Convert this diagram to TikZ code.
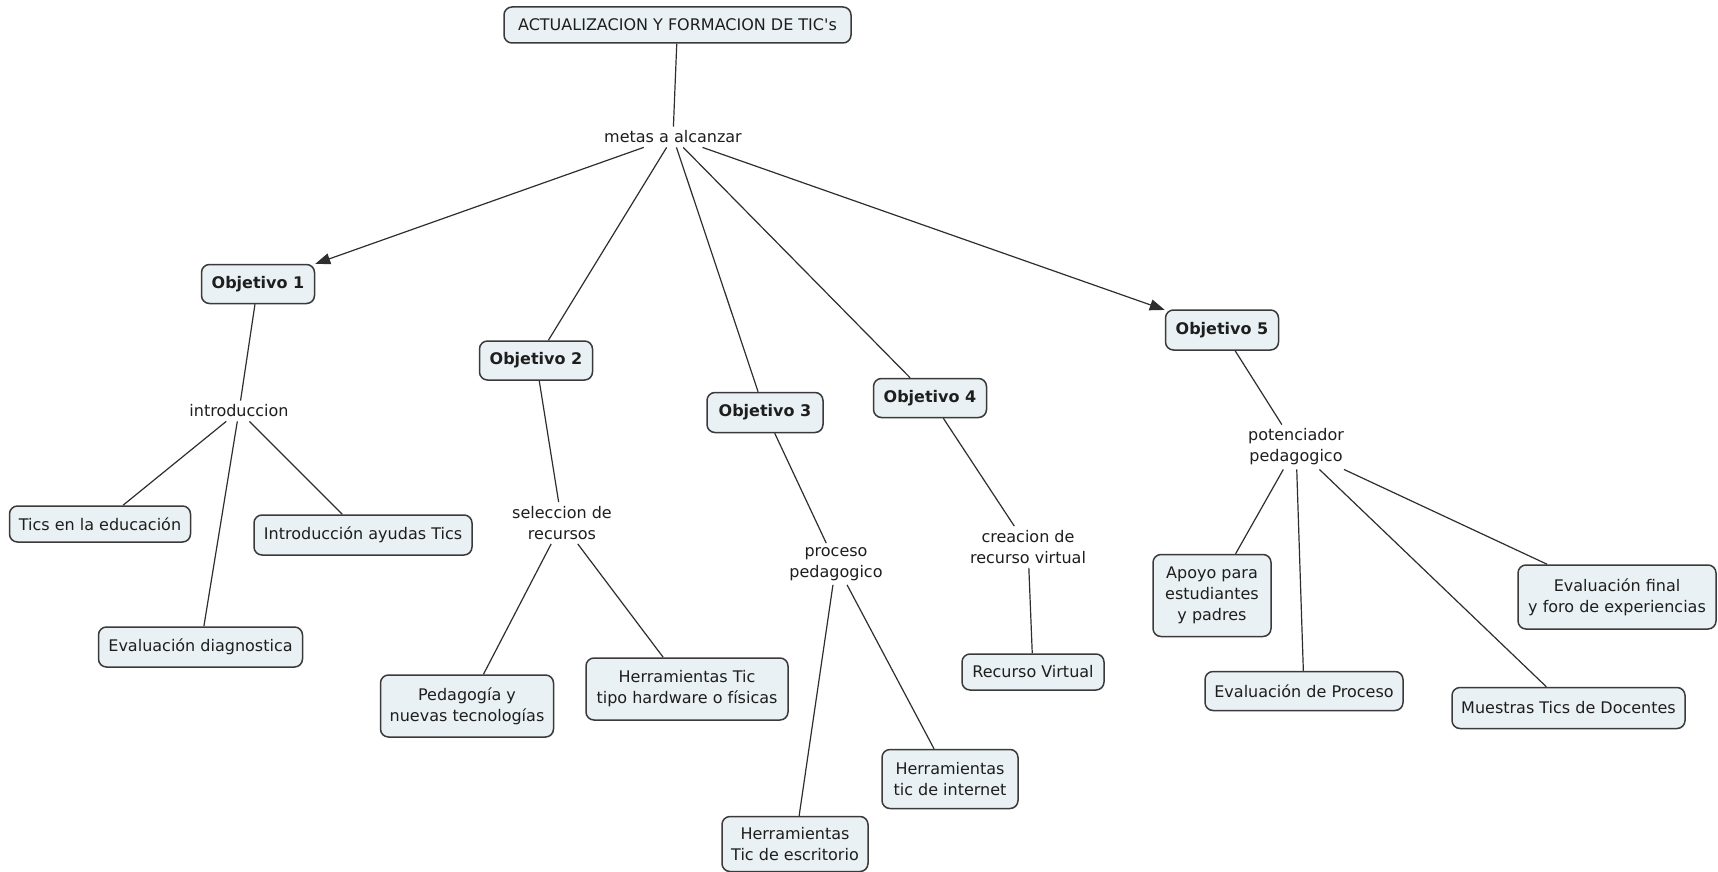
\documentclass[tikz,border=0pt]{standalone}
\usepackage{fontspec}
\setmainfont{DejaVu Sans}
\newfontfamily\dvs{DejaVu Sans}
\newfontfamily\dvsb{DejaVu Sans Bold}
\usetikzlibrary{arrows.meta}
\definecolor{boxfill}{HTML}{EAF1F4}
\definecolor{boxdraw}{HTML}{3A3A3A}
\definecolor{linec}{HTML}{2E2E2E}
\definecolor{txt}{HTML}{1E1E1E}
\begin{document}
\begin{tikzpicture}[x=1pt,y=-1pt,
  font=\dvs\fontsize{16}{21}\selectfont, text=txt,
  box/.style={draw=boxdraw, fill=boxfill, line width=1.5pt, rounded corners=8pt, align=center, inner sep=2pt},
  obj/.style={box, font=\dvs\bfseries\fontsize{16}{21}\selectfont},
  lbl/.style={align=center, inner sep=4pt},
  conn/.style={draw=linec, line width=1.2pt},
  arr/.style={conn, -{Triangle[length=15pt,width=11pt]}}]
\useasboundingbox (0,0) rectangle (1718,872);
\fill[white] (0,0) rectangle (1718,872);

% nodes
\node[box, minimum width=347pt, minimum height=36pt] (title) at (677.5,25) {ACTUALIZACION Y FORMACION DE TIC's};
\node[lbl] (metas) at (673,137) {metas a alcanzar};

\node[obj, minimum width=113pt, minimum height=39pt] (o1) at (258,284) {Objetivo 1};
\node[obj, minimum width=113pt, minimum height=39pt] (o2) at (536,360.5) {Objetivo 2};
\node[obj, minimum width=116pt, minimum height=40pt] (o3) at (765,412.5) {Objetivo 3};
\node[obj, minimum width=113pt, minimum height=39pt] (o4) at (930,398) {Objetivo 4};
\node[obj, minimum width=113pt, minimum height=40pt] (o5) at (1222,330) {Objetivo 5};

\node[lbl] (intro) at (239,411) {introduccion};
\node[box, minimum width=181pt, minimum height=36pt] (ticsedu) at (100,524) {Tics en la educación};
\node[box, minimum width=218pt, minimum height=40pt] (introay) at (363,535) {Introducción ayudas Tics};
\node[box, minimum width=204pt, minimum height=40pt] (evaldiag) at (200.5,647) {Evaluación diagnostica};

\node[lbl] (selec) at (562,523) {seleccion de\\recursos};
\node[box, minimum width=173pt, minimum height=62pt] (pedag) at (467,706) {Pedagogía y\\nuevas tecnologías};
\node[box, minimum width=202pt, minimum height=62pt] (herrhw) at (687,689) {Herramientas Tic\\tipo hardware o físicas};

\node[lbl] (proc) at (836,564) {proceso\\pedagogico};
\node[box, minimum width=136pt, minimum height=59pt] (herrint) at (950,779) {Herramientas\\tic de internet};
\node[box, minimum width=146pt, minimum height=55pt] (herresc) at (795,844) {Herramientas\\Tic de escritorio};

\node[lbl] (creac) at (1028,547) {creacion de\\recurso virtual};
\node[box, minimum width=142pt, minimum height=36pt] (recvirt) at (1033,672) {Recurso Virtual};

\node[lbl] (poten) at (1296,447) {potenciador\\pedagogico};
\node[box, minimum width=118pt, minimum height=82pt] (apoyo) at (1212,595.5) {Apoyo para\\estudiantes\\y padres};
\node[box, minimum width=198pt, minimum height=39pt] (evalproc) at (1304,691) {Evaluación de Proceso};
\node[box, minimum width=233pt, minimum height=41pt] (muestras) at (1568.5,708) {Muestras Tics de Docentes};
\node[box, minimum width=198pt, minimum height=64pt] (evalfin) at (1617,597) {Evaluación final\\y foro de experiencias};

% connectors
\draw[conn] (title) -- (metas);
\draw[arr] (metas) -- (o1);
\draw[conn] (metas) -- (o2);
\draw[conn] (metas) -- (o3);
\draw[conn] (metas) -- (o4);
\draw[arr] (metas) -- (o5);

\draw[conn] (o1) -- (intro);
\draw[conn] (intro) -- (ticsedu);
\draw[conn] (intro) -- (evaldiag);
\draw[conn] (intro) -- (introay);

\draw[conn] (o2) -- (selec);
\draw[conn] (selec) -- (pedag);
\draw[conn] (selec) -- (herrhw);

\draw[conn] (o3) -- (proc);
\draw[conn] (proc) -- (herresc);
\draw[conn] (proc) -- (herrint);

\draw[conn] (o4) -- (creac);
\draw[conn] (creac) -- (recvirt);

\draw[conn] (o5) -- (poten);
\draw[conn] (poten) -- (apoyo);
\draw[conn] (poten) -- (evalproc);
\draw[conn] (poten) -- (muestras);
\draw[conn] (poten) -- (evalfin);
\end{tikzpicture}
\end{document}
